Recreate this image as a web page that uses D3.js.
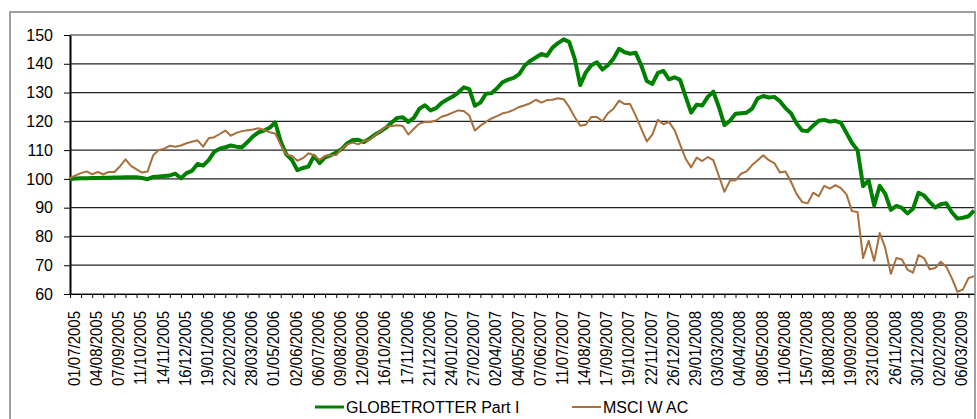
<!DOCTYPE html>
<html>
  <head>
    <meta charset="utf-8">
    <title>Globetrotter Part I vs MSCI W AC</title>
    <script src="https://d3js.org/d3.v7.min.js"></script>
    <style>
      body { margin: 0; background: #fff; }
      text { font-family: "Liberation Sans", Arial, sans-serif; fill: #000; }
    </style>
  </head>
  <body>
<svg width="977" height="419"></svg>
<script>
// one sample every 6 trading days, a date label every 24
var dayStep = 6;
var labelStep = 24;

var dateLabels = ["01/07/2005","04/08/2005","07/09/2005","11/10/2005","14/11/2005","16/12/2005",
  "19/01/2006","22/02/2006","28/03/2006","01/05/2006","02/06/2006","06/07/2006","09/08/2006",
  "12/09/2006","16/10/2006","17/11/2006","21/12/2006","24/01/2007","27/02/2007","02/04/2007",
  "04/05/2007","07/06/2007","11/07/2007","14/08/2007","17/09/2007","19/10/2007","22/11/2007",
  "26/12/2007","29/01/2008","03/03/2008","04/04/2008","08/05/2008","11/06/2008","15/07/2008",
  "18/08/2008","19/09/2008","23/10/2008","26/11/2008","30/12/2008","02/02/2009","06/03/2009"];

var globetrotter = [100,100.1,100.2,100.2,100.3,100.3,100.4,100.4,100.5,100.5,
  100.6,100.6,100.6,100.3,99.9,100.7,100.8,101.0,101.2,101.8,
  100.2,102,102.8,105.2,104.6,106.5,109.4,110.5,111,111.6,
  111.2,111,112.8,114.8,116.2,116.8,117.8,119.6,113,108.5,
  106.6,103,103.8,104.3,108,105.5,107.5,108.2,109.2,110.4,
  112.4,113.5,113.6,112.8,114,115.4,116.5,117.8,119.6,121.2,
  121.4,119.8,121.2,124.4,125.6,123.8,124.6,126.4,127.6,128.6,
  130,131.8,131.2,125.4,126.5,129.6,129.8,131.5,133.6,134.5,
  135.1,136.4,139.4,141,142.2,143.4,142.8,145.6,147.2,148.5,
  147.6,141.8,132.6,137,139.5,140.5,138,139.5,141.8,145.2,
  144,143.5,143.8,139.5,134,133,136.8,137.5,134.6,135.3,
  134.4,128.6,123,125.8,125.5,128.5,130.3,125,118.7,120.2,
  122.6,122.8,123,124.4,128,128.8,128.3,128.5,127,124.6,
  122.8,119.3,116.8,116.6,118.5,120.2,120.5,119.9,120.2,119.5,
  116,112.5,110,97.5,99.5,90.8,97.6,94.8,89.2,90.6,
  89.9,88,89.6,95.2,94.2,92,90,91.2,91.5,88.4,
  86.2,86.5,87,89];

var msciWAC = [100.3,101.2,102,102.6,101.6,102.4,101.6,102.4,102.4,104.3,
  106.8,104.5,103.3,102.2,102.6,108.2,110,110.5,111.5,111.2,
  111.6,112.4,112.9,113.4,111.2,114.1,114.5,115.6,116.8,115,
  116,116.6,116.9,117.2,117.6,117,116.2,115.8,111.8,108.5,
  108,106.3,107.2,108.9,108.2,106.6,108,108.2,108.3,110.5,
  112,112.6,112,113.2,113.6,115.2,116.6,118.2,118.4,118.6,
  118.4,115.4,117.4,119.2,119.8,119.8,120.3,121.6,122.2,123,
  123.8,123.6,122,116.8,118.5,119.8,121,121.8,122.8,123.2,
  124,125,125.6,126.3,127.5,126.5,127.4,127.5,128,127.7,
  125,121.5,118.5,118.8,121.5,121.5,120,122.8,124.4,127.2,
  126,126,122,117.5,113,115.4,120.5,119,119.8,117,
  112,107,104,107.4,106.2,107.6,106.5,101,95.5,99.4,
  99.5,101.8,102.6,104.8,106.5,108.2,106.5,105.5,102.2,102.6,
  99,94.8,92,91.5,95.2,94,97.6,96.6,97.8,96.8,
  94.6,88.8,88.5,72.5,78.5,71.5,81.2,76,67,72.5,
  72,68.5,67.4,73.5,72.5,68.6,69,71.2,69.5,65.5,
  60.8,61.5,65.5,66.2];

var yTicks = [60, 70, 80, 90, 100, 110, 120, 130, 140, 150];
var seriesNames = ["GLOBETROTTER Part I", "MSCI W AC"];
var seriesColors = ["#008000", "#a66f3c"];

var svg = d3.select("svg");

var x = d3.scaleLinear()
    .domain([0, (globetrotter.length - 1) * dayStep])
    .range([70, 974]);
var y = d3.scaleLinear()
    .domain([60, 150])
    .range([294, 35]);

// chart border
svg.append("rect")
    .attr("x", 10).attr("y", 12)
    .attr("width", 965).attr("height", 420)
    .attr("fill", "none")
    .attr("stroke", "#a0a0a0")
    .attr("stroke-width", 2);

// gridlines
svg.append("g")
  .selectAll("line")
  .data(yTicks)
  .enter().append("line")
    .attr("x1", x.range()[0])
    .attr("x2", x.range()[1])
    .attr("y1", function(d) { return y(d); })
    .attr("y2", function(d) { return y(d); })
    .attr("stroke", "#222")
    .attr("stroke-width", 1.2);

// x axis: tick every 12 days, label every 24
var tickDays = d3.range(0, x.domain()[1] + 1, labelStep / 2);
var xAxis = svg.append("g")
    .attr("transform", "translate(0," + y(60) + ")")
    .call(d3.axisBottom(x)
      .tickValues(tickDays)
      .tickSize(4)
      .tickSizeOuter(0)
      .tickFormat(function(d) {
        return d % labelStep == 0 ? (dateLabels[d / labelStep] || "") : "";
      }));
xAxis.select(".domain").attr("stroke", "#000");
xAxis.selectAll("line").attr("stroke", "#000");
xAxis.selectAll("text")
    .attr("transform", "rotate(-90) scale(1,1.15)")
    .attr("text-anchor", "end")
    .attr("x", -17)
    .attr("y", 8.1)
    .attr("dy", 0)
    .style("font-size", "15px");

// y axis
var yAxis = svg.append("g")
    .attr("transform", "translate(70,0)")
    .call(d3.axisLeft(y)
      .tickValues(yTicks)
      .tickSize(6)
      .tickSizeOuter(0)
      .tickPadding(11));
yAxis.select(".domain").attr("stroke", "#000").attr("stroke-width", 2);
yAxis.selectAll("line").attr("stroke", "#000");
yAxis.selectAll("text").style("font-size", "16px");

// series
var line = d3.line()
    .x(function(d, i) { return x(i * dayStep); })
    .y(function(d) { return y(d); });

var seriesData = [globetrotter, msciWAC];
var widths = [4, 2];
seriesData.forEach(function(s, i) {
  svg.append("path")
      .datum(s)
      .attr("fill", "none")
      .attr("stroke", seriesColors[i])
      .attr("stroke-width", widths[i])
      .attr("stroke-linejoin", "round")
      .attr("d", line);
});

// legend
var legendX = [315, 572];
var legend = svg.append("g").selectAll("g")
    .data(seriesNames)
    .enter().append("g")
    .attr("transform", function(d, i) { return "translate(" + legendX[i] + ",407)"; });
legend.append("line")
    .attr("x1", 0).attr("x2", 29)
    .attr("stroke", function(d, i) { return seriesColors[i]; })
    .attr("stroke-width", function(d, i) { return i == 0 ? 3 : 2; });
legend.append("text")
    .attr("x", 31)
    .attr("y", 6)
    .style("font-size", "16px")
    .text(function(d) { return d; });
</script>
  </body>
</html>
